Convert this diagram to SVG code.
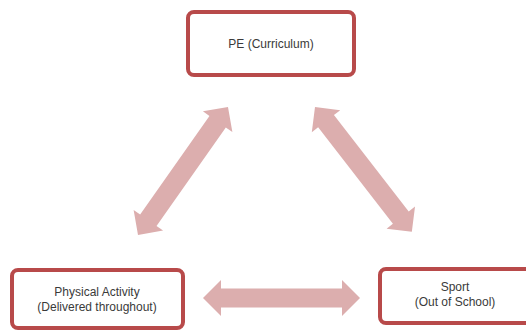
<svg xmlns="http://www.w3.org/2000/svg" width="526" height="331" viewBox="0 0 526 331">
<style>
.box{fill:#fff;stroke:#b84a4a;stroke-width:4}
.t{font-family:"Liberation Sans",Arial,sans-serif;font-size:12px;fill:#3a3a3a;text-anchor:middle}
.arr{fill:#dcaeae}
</style>
<rect width="526" height="331" fill="#fff"/>
<g id="connectors">
<path class="arr" transform="translate(203,298)" d="M0,0 L18,-18 L18,-9.5 L139,-9.5 L139,-18 L157,0 L139,18 L139,9.5 L18,9.5 L18,18 Z"/>
<path class="arr" transform="translate(138,235) rotate(-54.9)" d="M0,0 L18,-18 L18,-10 L138.5,-10 L138.5,-18 L156.5,0 L138.5,18 L138.5,10 L18,10 L18,18 Z"/>
<path class="arr" transform="translate(315,107) rotate(52.2)" d="M0,0 L18,-18 L18,-10 L140,-10 L140,-18 L158,0 L140,18 L140,10 L18,10 L18,18 Z"/>
</g>
<g id="pe">
<rect class="box" x="188" y="12" width="166" height="63" rx="6"/>
<text class="t" x="271" y="48">PE (Curriculum)</text>
</g>
<g id="physical-activity">
<rect class="box" x="12" y="270" width="171" height="58" rx="6"/>
<text class="t" x="97" y="296">Physical Activity</text>
<text class="t" x="97" y="311">(Delivered throughout)</text>
</g>
<g id="sport">
<rect class="box" x="380" y="269" width="152" height="54" rx="6"/>
<text class="t" x="455" y="291">Sport</text>
<text class="t" x="455" y="306">(Out of School)</text>
</g>
</svg>
